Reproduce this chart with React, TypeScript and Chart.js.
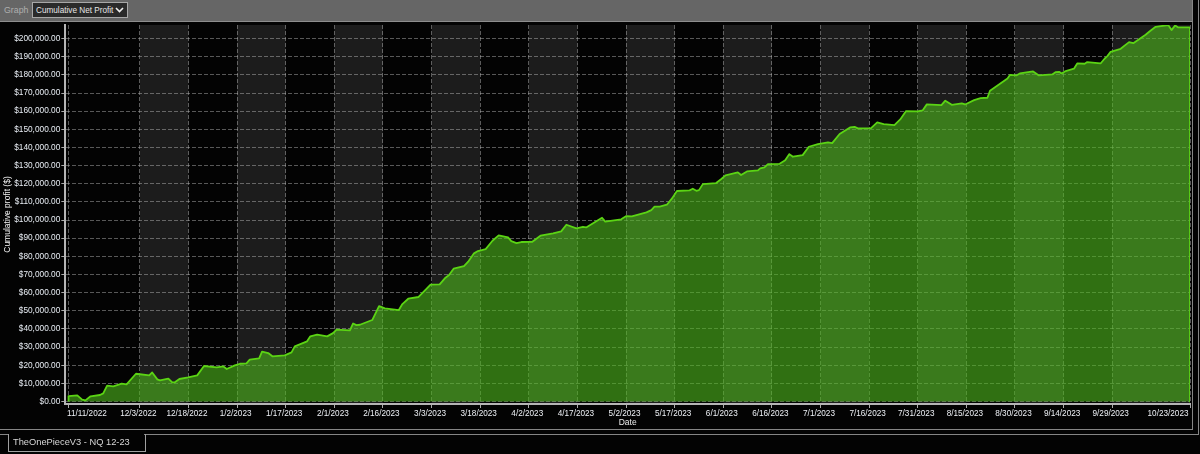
import React, { useEffect, useRef } from "react";
import { Chart, registerables } from "chart.js";

Chart.register(...registerables);

const FONT = '"Liberation Sans", Arial, sans-serif';

const tickDays = [0, 22, 37, 52, 67, 82, 97, 112, 127, 142, 157, 172, 187, 202, 217, 232, 247, 262, 277, 292, 307, 322, 346];
const tickLabels = ["11/11/2022", "12/3/2022", "12/18/2022", "1/2/2023", "1/17/2023", "2/1/2023", "2/16/2023", "3/3/2023", "3/18/2023", "4/2/2023", "4/17/2023", "5/2/2023", "5/17/2023", "6/1/2023", "6/16/2023", "7/1/2023", "7/16/2023", "7/31/2023", "8/15/2023", "8/30/2023", "9/14/2023", "9/29/2023", "10/23/2023"];
const yTicks = [0, 10000, 20000, 30000, 40000, 50000, 60000, 70000, 80000, 90000, 100000, 110000, 120000, 130000, 140000, 150000, 160000, 170000, 180000, 190000, 200000];

const days = [
  0, 0, 2.7, 4.2, 5.2, 6.8, 9.7, 10.7, 11.9, 13.8, 16.4, 17.9, 20.8, 24.9, 25.8, 27.4, 28.2, 30.8, 32, 32.8, 34.2, 36.9, 39.7, 41.8, 45.7, 47.7, 48.8, 51.3, 52.9, 54.9, 55.9, 58.8, 59.7, 61.6, 62.9, 66.7, 68.8, 69.8, 73.6, 74.6, 76.7, 79.8, 81.6, 82.7, 86.8, 87.8, 88.8, 89.9,
  93.7, 95.8, 97.6, 101.9, 103, 104.8, 108, 111.7, 114.5, 116.1, 117.4, 118.8, 122, 123.3, 125.1, 126.3, 128.7, 130.8, 132.7, 135.6, 136.6, 138.2, 139.7, 143.1, 145.6, 149.5, 152, 153.6, 156.7, 158.7, 159.7, 164.6, 165.6, 170.5, 172.1, 173.8,
  178.3, 179.8, 180.8, 182.4, 184.6, 186.2, 187.7, 191.6, 192.6, 193.7, 194.5, 195.7, 199.8, 201.4, 202.7, 206.5, 207.5, 209.3, 212.7, 213.4, 214.7, 215.8, 219.4, 221.1, 222.4, 223.5, 226.5, 228.4, 231.2, 234.3, 235.6, 237.9, 241.1, 242.5, 243.5, 247.6, 249.5, 251.5, 254.8, 256.6, 258.4, 262, 263.5, 264.8, 269.3,
  270.5, 272.5, 275.6, 276.6, 279.4, 281.4, 283.5, 284.3, 289.7, 290.5, 292.4, 293.5, 297.6, 299.4, 303.5, 304.6, 305.6, 306.4, 307.4, 310.2, 311.2, 313.5, 314.3, 318.4, 319.7, 320.5, 321.5, 324.6, 327.2, 328.5, 332.3, 333.5, 335.4, 339.3, 340.3, 341.4, 342.4, 346, 346,
];
const profit = [
  0, 3000, 3400, 1000, 640, 2850, 3580, 4500, 8720, 8350, 9800, 9450, 15300, 14400, 16000, 12200, 11660, 12580, 10560, 10560, 12400, 13300, 14400, 19560, 18800, 19400, 17900, 19900, 20800, 21000, 23050, 23800, 27450, 26700, 24900, 25400, 27100, 30400, 33150, 35900, 36800, 35900, 37700, 39600, 39200, 43000, 42100, 42300,
  44900, 52600, 51300, 50400, 53700, 56650, 57600, 64400, 64550, 67900, 69700, 73200, 74650, 77050, 81650, 82900, 84000, 88600, 91550, 90450, 88400, 87300, 87900, 88050, 91400, 92650, 93750, 97400, 95400, 96300, 95950, 101300, 99100, 100400, 102200, 102000,
  104200, 105500, 107350, 107350, 108450, 111950, 116000, 116350, 117250, 116150, 116500, 119800, 120400, 122600, 124600, 126250, 124800, 126800, 127350, 128450, 129000, 130850, 131000, 132900, 136350, 134900, 135800, 140400, 141850, 142800, 142400, 147400, 151050, 151400, 150500, 150700, 153800, 152900, 152350, 155450, 160050, 159900, 160400, 163750, 163350,
  165800, 163500, 164250, 163700, 166100, 167200, 167400, 171250, 178050, 180050, 179700, 180800, 181900, 179700, 180250, 181550, 181700, 180800, 181900, 183400, 186300, 186150, 187050, 186300, 189050, 190350, 192700, 194400, 198050, 197500, 202100, 203900, 206500, 207450, 204700, 207250, 206150, 206150, 0,
];

const chevron =
  "url(\"data:image/svg+xml,%3Csvg xmlns='http://www.w3.org/2000/svg' width='9' height='6'%3E%3Cpath d='M1 1l3.5 3.5L8 1' fill='none' stroke='%23eeeeee' stroke-width='1.6'/%3E%3C/svg%3E\")";

const bandsPlugin = {
  id: "bands",
  beforeDraw(chart: any) {
    const { ctx, chartArea, scales } = chart;
    ctx.save();
    ctx.fillStyle = "#1c1c1c";
    for (let i = 1; i < tickDays.length - 1; i += 2) {
      const a = scales.x.getPixelForValue(tickDays[i]);
      const b = scales.x.getPixelForValue(tickDays[i + 1]);
      ctx.fillRect(a, chartArea.top, b - a, chartArea.bottom - chartArea.top);
    }
    ctx.restore();
  },
};

const line = (style: React.CSSProperties) => <div style={{ position: "absolute", background: "#858585", ...style }} />;

export default function App() {
  const ref = useRef<HTMLCanvasElement>(null);
  useEffect(() => {
    const chart = new Chart(ref.current as HTMLCanvasElement, {
      type: "line",
      plugins: [bandsPlugin],
      data: {
        datasets: [
          {
            label: "Cumulative Net Profit",
            data: days.map((d, i) => ({ x: d, y: profit[i] })),
            borderColor: "#5bd414",
            borderWidth: 1.8,
            backgroundColor: "rgba(78,185,28,0.6)",
            fill: "origin",
            pointRadius: 0,
            tension: 0,
            borderJoinStyle: "round",
          },
        ],
      },
      options: {
        animation: false,
        responsive: false,
        devicePixelRatio: 1,
        layout: { padding: { top: 25, right: 10, left: 3, bottom: 26 } },
        plugins: { legend: { display: false }, tooltip: { enabled: false } },
        scales: {
          x: {
            type: "linear",
            min: -1,
            max: 346,
            afterBuildTicks(s: any) {
              s.ticks = tickDays.map((v) => ({ value: v }));
            },
            afterFit(s: any) {
              s.height = 24;
            },
            ticks: {
              autoSkip: false,
              maxRotation: 0,
              align: "inner",
              labelOffset: -1.5,
              padding: 1,
              color: "#eef1f6",
              font: { family: FONT, size: 8.2 },
              callback: (_v: any, i: number) => tickLabels[i],
            },
            grid: { color: "rgba(190,190,190,0.46)", tickColor: "#aaaaaa", tickLength: 4, tickBorderDash: [], lineWidth: 1 },
            border: { display: true, color: "#b5b5b5", width: 2, dash: [4, 2] },
            title: { display: true, text: "Date", color: "#eeeeee", font: { family: FONT, size: 8.5 }, padding: { top: 0, bottom: 0 } },
          },
          y: {
            type: "linear",
            min: -1377,
            max: 207500,
            afterBuildTicks(s: any) {
              s.ticks = yTicks.map((v) => ({ value: v }));
            },
            afterFit(s: any) {
              s.width = 62.3;
            },
            ticks: {
              autoSkip: false,
              padding: 1,
              color: "#e8edf4",
              font: { family: FONT, size: 8.3 },
              callback: (v: any) => "$" + Number(v).toLocaleString("en-US", { minimumFractionDigits: 2, maximumFractionDigits: 2 }),
            },
            grid: { color: "rgba(190,190,190,0.46)", tickColor: "#aaaaaa", tickLength: 4, lineWidth: 1 },
            border: { display: true, color: "#b5b5b5", width: 2, dash: [4, 2] },
            title: { display: true, text: "Cumulative profit ($)", color: "#f4f4f4", font: { family: FONT, size: 8.5 }, padding: { top: 0, bottom: 0 } },
          },
        },
      },
    } as any);
    return () => chart.destroy();
  }, []);

  return (
    <div style={{ position: "absolute", left: 0, top: 0, width: 1200, height: 454, background: "#030303", overflow: "hidden", fontFamily: FONT }}>
      <canvas ref={ref} width={1200} height={454} style={{ position: "absolute", left: 0, top: 0, display: "block" }} />
      <div style={{ position: "absolute", left: 0, top: 0, width: 1192, height: 21, background: "#666666", borderBottom: "1px solid #8e8e8e" }} />
      <span style={{ position: "absolute", left: 4, top: 5, fontSize: 8.8, lineHeight: "11px", color: "#aeaeae" }}>Graph</span>
      <select
        defaultValue="Cumulative Net Profit"
        style={{ position: "absolute", left: 32, top: 2, width: 96, height: 16, boxSizing: "border-box", padding: "0 0 0 3px", appearance: "none", WebkitAppearance: "none", borderRadius: 0, backgroundColor: "#2a2a2a", backgroundImage: chevron, backgroundRepeat: "no-repeat", backgroundPosition: "right 3px center", color: "#e6e6e6", border: "1px solid #a8a8a8", fontSize: 8.2, fontFamily: FONT }}
      >
        <option>Cumulative Net Profit</option>
      </select>
      {line({ left: 1192, top: 0, width: 1, height: 430 })}
      {line({ left: 1198, top: 0, width: 1, height: 435 })}
      {line({ left: 0, top: 429, width: 1193, height: 1 })}
      {line({ left: 0, top: 434, width: 9, height: 1 })}
      {line({ left: 144, top: 434, width: 1055, height: 1 })}
      <div style={{ position: "absolute", left: 8, top: 434, width: 132, height: 17, borderLeft: "1px solid #a0a0a0", borderRight: "1px solid #a0a0a0", borderBottom: "1px solid #a0a0a0", color: "#d8d8d8", fontSize: 9.3, lineHeight: "17px", paddingLeft: 4 }}>
        TheOnePieceV3 - NQ 12-23
      </div>
    </div>
  );
}
